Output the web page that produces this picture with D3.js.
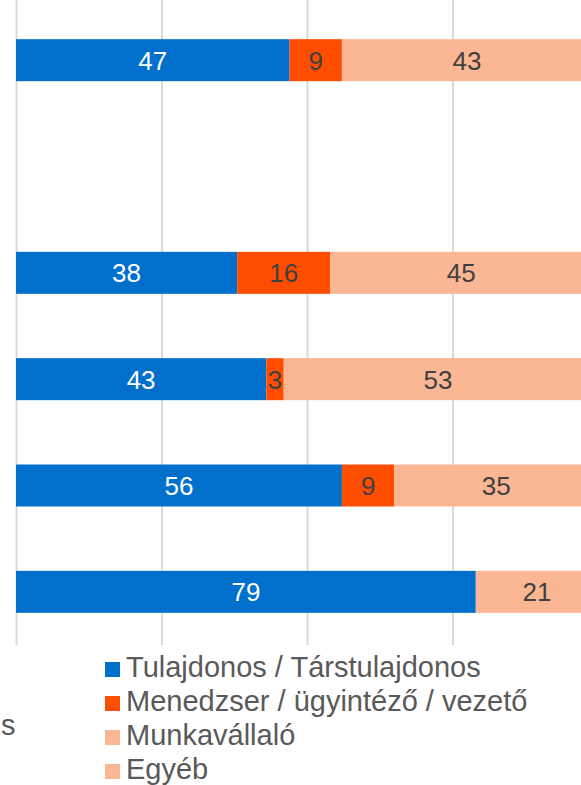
<!DOCTYPE html>
<html>
<head>
<meta charset="utf-8">
<script src="https://cdn.jsdelivr.net/npm/d3@7"></script>
<style>
  body { margin: 0; background: #fff; }
  svg { display: block; font-family: "Liberation Sans", Arial, sans-serif; }
</style>
</head>
<body>
<div class="chartContainer"></div>
<script>
// categories (their labels sit left of the visible area)
const categories = ["Kategória 1", "Kategória 2", "Kategória 3", "Kategória 4", "Kategória 5", "Kategória 6"];
const seriesNames = ["Tulajdonos / Társtulajdonos", "Menedzser / ügyintéző / vezető", "Munkavállaló", "Egyéb"];
const seriesColors = ["#0070CC", "#FF4D00", "#FBB693", "#FBB693"];
// values per series, one per category (null = no data)
const tulajdonos = [47, null, 38, 43, 56, 79];
const menedzser = [9, null, 16, 3, 9, 0];
const munkavallalo = [43, null, 45, 53, 35, 21];
const egyeb = [0, null, 0, 0, 0, 0];
const xTicks = [0, 25, 50, 75, 100];

document.addEventListener("DOMContentLoaded", function () {
  const w = 581;
  const h = 785;

  const series = [tulajdonos, menedzser, munkavallalo, egyeb];

  const rows = categories.map((c, i) => {
    const row = { cat: c };
    seriesNames.forEach((s, j) => (row[s] = series[j][i] || 0));
    return row;
  });

  const stacked = d3.stack().keys(seriesNames)(rows);

  const xScale = d3.scaleLinear().domain([0, 100]).range([16, 598]);
  const yScale = d3
    .scaleBand()
    .domain(categories)
    .range([7, 645])
    .paddingInner(0.605)
    .paddingOuter(0.3025);

  const svg = d3
    .select(".chartContainer")
    .append("svg")
    .attr("width", w)
    .attr("height", h);

  // gridlines
  const grid = svg
    .append("g")
    .attr("transform", "translate(0,645)")
    .call(d3.axisBottom(xScale).tickValues(xTicks).tickSize(-645).tickFormat(""));
  grid.select(".domain").remove();
  grid.selectAll(".tick line").attr("stroke", "#D9D9D9").attr("stroke-width", 2);

  const layer = svg
    .selectAll("g.layer")
    .data(stacked)
    .enter()
    .append("g")
    .attr("class", "layer")
    .attr("fill", (d, i) => seriesColors[i]);

  layer
    .selectAll("rect")
    .data((d) => d.filter((p) => p[1] - p[0] > 0))
    .enter()
    .append("rect")
    .attr("x", (d) => xScale(d[0]))
    .attr("y", (d) => yScale(d.data.cat))
    .attr("width", (d) => xScale(d[1]) - xScale(d[0]))
    .attr("height", yScale.bandwidth());

  layer
    .selectAll("text")
    .data((d) => d.filter((p) => p[1] - p[0] > 0))
    .enter()
    .append("text")
    .attr("x", (d) => (xScale(d[0]) + xScale(d[1])) / 2)
    .attr("y", (d) => yScale(d.data.cat) + yScale.bandwidth() / 2)
    .attr("dy", "0.36em")
    .attr("text-anchor", "middle")
    .attr("font-size", 26)
    .attr("fill", function () {
      return d3.select(this.parentNode).datum().index === 0 ? "#FFFFFF" : "#404040";
    })
    .text((d) => d[1] - d[0]);

  // cut-off axis label fragment at the left
  svg
    .append("text")
    .attr("x", 1)
    .attr("y", 735)
    .attr("font-size", 29)
    .attr("fill", "#595959")
    .text("s");

  // legend
  const legend = svg
    .selectAll("g.legend")
    .data(seriesNames)
    .enter()
    .append("g")
    .attr("class", "legend")
    .attr("transform", (d, i) => "translate(105," + (677 + i * 34) + ")");

  legend
    .append("rect")
    .attr("x", 0)
    .attr("y", -15)
    .attr("width", 15)
    .attr("height", 15)
    .attr("fill", (d, i) => seriesColors[i]);

  legend
    .append("text")
    .attr("x", 21)
    .attr("y", 0)
    .attr("font-size", 29)
    .attr("fill", "#595959")
    .text((d) => d);
});
</script>
</body>
</html>
